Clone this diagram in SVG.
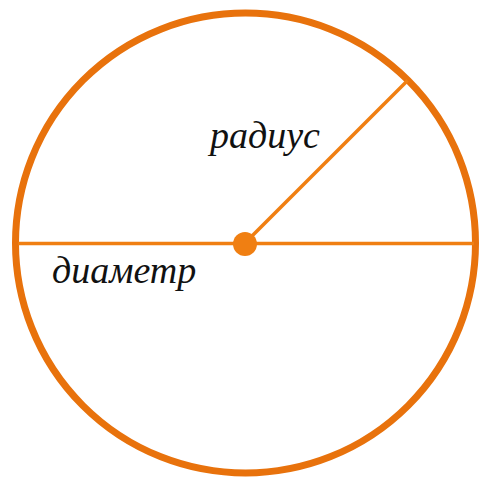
<svg xmlns="http://www.w3.org/2000/svg" width="480" height="477" viewBox="0 0 480 477">
<style>
.lbl{font-family:"Liberation Serif","Times New Roman",serif;font-style:italic;font-size:38px;fill:#111}
.ln{stroke:#F07F12;stroke-width:3.5;fill:none}
</style>
<rect width="480" height="477" fill="#fff"/>
<g id="circle"><circle cx="245.5" cy="243" r="230" fill="none" stroke="#E8720C" stroke-width="7"/></g>
<g id="connectors">
<line class="ln" x1="18" y1="243.5" x2="474" y2="243.5"/>
<line class="ln" x1="245" y1="243" x2="407.6" y2="80.4"/>
</g>
<g id="center"><circle cx="245" cy="244" r="12" fill="#F07F12"/></g>
<g id="label-radius"><text class="lbl" x="210" y="148">радиус</text></g>
<g id="label-diameter"><text class="lbl" x="52" y="283">диаметр</text></g>
</svg>
